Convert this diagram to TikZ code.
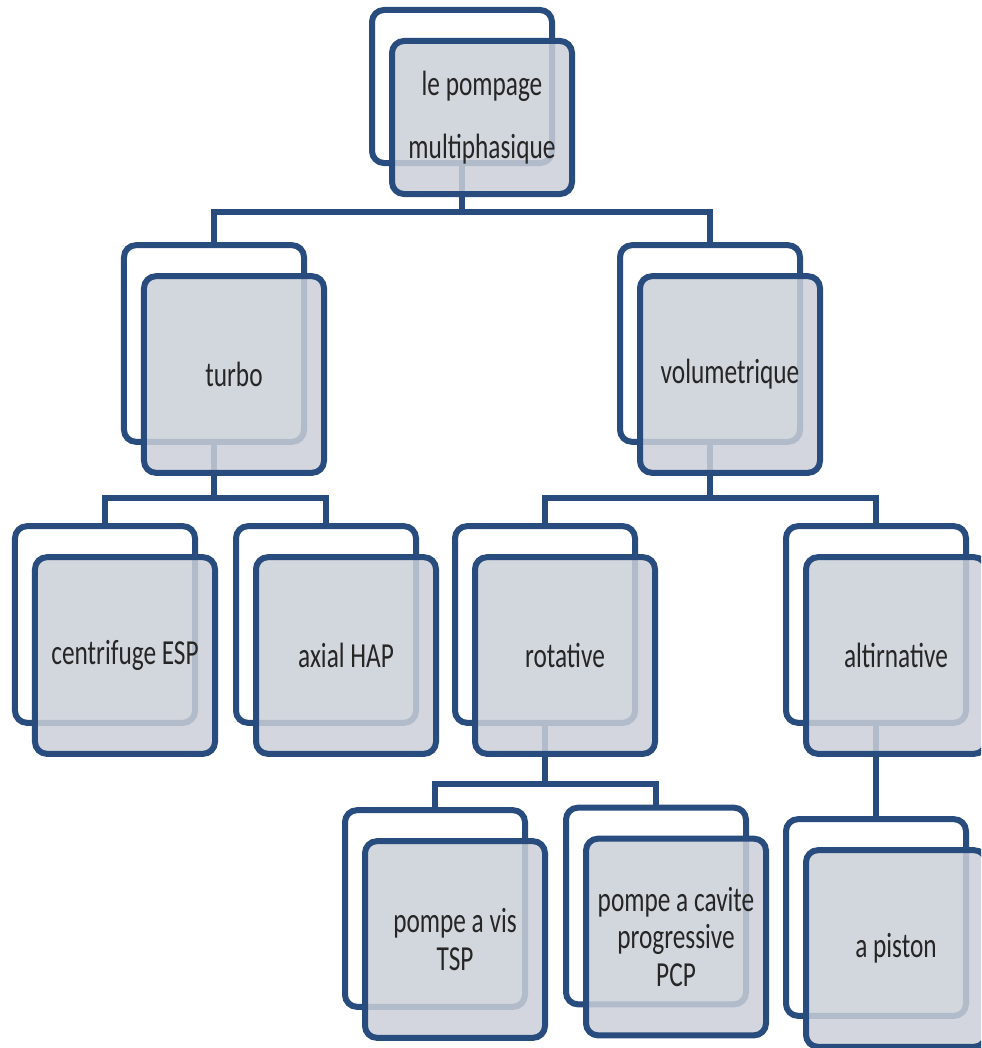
\documentclass[tikz,border=0pt]{standalone}
\usepackage{fontspec}
\setmainfont{Carlito}[FakeStretch=0.72]
\definecolor{smartblue}{RGB}{40,76,125}
\definecolor{boxgray}{RGB}{203,207,216}
\begin{document}
\begin{tikzpicture}[x=0.03cm,y=-0.03cm,
  back/.style={rectangle,draw=smartblue,line width=0.18cm,rounded corners=0.36cm,
    fill=white,minimum width=5.4cm,minimum height=5.9cm,inner sep=0pt,outer sep=0pt},
  front/.style={back,fill=boxgray,fill opacity=0.85,text opacity=1,shift={(20,31)},
    align=center,text=black!85,font=\fontsize{30}{32}\selectfont},
  link/.style={draw=smartblue,line width=0.17cm}]
\clip (0,0) rectangle (981,1048) ;
% back boxes
\node[back,minimum height=4.59cm] (pompB)   at (462,86.5)  {} ;
\node[back] (turboB)  at (214,343.5) {} ;
\node[back] (volumB)  at (710,343.5) {} ;
\node[back] (centriB) at (105,624.5) {} ;
\node[back] (axialB)  at (326,624.5) {} ;
\node[back] (rotatB)  at (545,624.5) {} ;
\node[back] (altirB)  at (876,624.5) {} ;
\node[back] (visB)    at (435,908.5) {} ;
\node[back] (caviteB) at (656,906)   {} ;
\node[back] (pistonB) at (876,917.5) {} ;
% connectors
\draw[link] (pompB.south)  -- ++(0,49) -| (turboB.north) ;
\draw[link] (pompB.south)  -- ++(0,49) -| (volumB.north) ;
\draw[link] (turboB.south) -- ++(0,56) -| (centriB.north) ;
\draw[link] (turboB.south) -- ++(0,56) -| (axialB.north) ;
\draw[link] (volumB.south) -- ++(0,56) -| (rotatB.north) ;
\draw[link] (volumB.south) -- ++(0,56) -| (altirB.north) ;
\draw[link] (rotatB.south) -- ++(0,61) -| (visB.north) ;
\draw[link] (rotatB.south) -- ++(0,61) -| (caviteB.north) ;
\draw[link] (altirB.south) -- (pistonB.north) ;
% front boxes
\node[front,minimum height=4.59cm] (pomp) at (pompB) {le pompage\\[22pt]multiphasique} ;
\node[front] (turbo)  at (turboB)  {turbo} ;
\node[front] (volum)  at (volumB)  {volumetrique} ;
\node[front] (centri) at (centriB) {centrifuge ESP} ;
\node[front] (axial)  at (axialB)  {axial HAP} ;
\node[front] (rotat)  at (rotatB)  {rotative} ;
\node[front] (altir)  at (altirB)  {altirnative} ;
\node[front] (vis)    at (visB)    {pompe a vis\\TSP} ;
\node[front] (cavite) at (caviteB) {pompe a cavite\\progressive\\PCP} ;
\node[front] (piston) at (pistonB) {a piston} ;
\end{tikzpicture}
\end{document}
